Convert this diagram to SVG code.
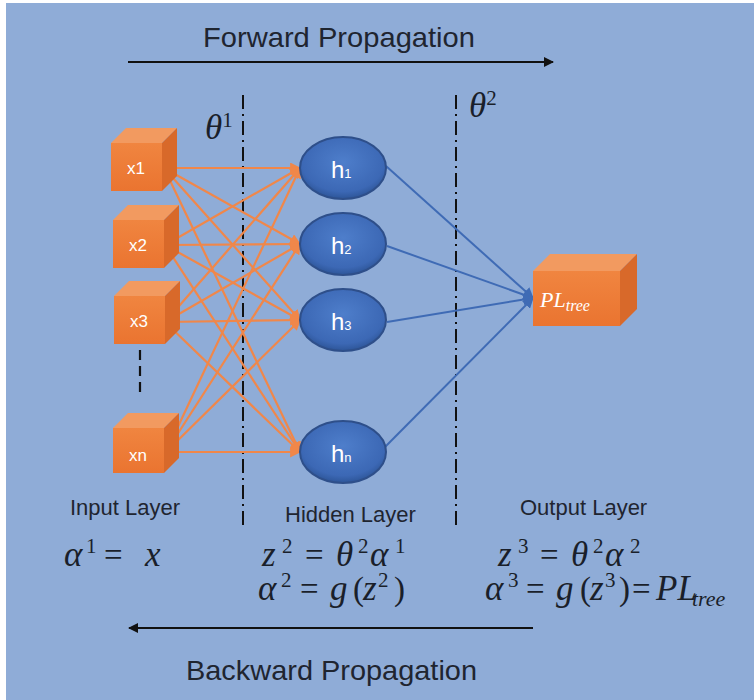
<svg xmlns="http://www.w3.org/2000/svg" width="754" height="700" viewBox="0 0 754 700">
  <defs>
    <style>
      .lbl { font-family: "Liberation Sans", "Open Sans", sans-serif; fill: #1f2530; }
      .math { font-family: "Liberation Serif", "DejaVu Serif", serif; font-style: italic; fill: #1a1f2a; font-size: 35px; }
      .up { font-style: normal; font-size: 33px; }
      .sup { font-style: normal; font-size: 21px; }
      .cubetxt { font-family: "Liberation Sans", "Open Sans", sans-serif; fill: #ffffff; font-size: 17px; text-anchor: middle; }
      .htxt { font-family: "Liberation Sans", "Open Sans", sans-serif; fill: #ffffff; font-size: 24px; }
      .front { fill: url(#gFront); }
      .top { fill: #F29A60; }
      .side { fill: #D8692A; }
      .orange { stroke: #F0874A; stroke-width: 2.2; fill: none; marker-end: url(#aOr); }
      .blue { stroke: #3F6BB5; stroke-width: 2; fill: none; marker-end: url(#aBl); }
      .dashdot { stroke: #111; stroke-width: 2; stroke-dasharray: 14 5 2 5; fill: none; }
      .arrow { stroke: #111; stroke-width: 2.2; fill: none; }
      .node { fill: url(#gNode); stroke: #2E4F8A; stroke-width: 2; }
    </style>
    <linearGradient id="gFront" x1="0" y1="0" x2="0" y2="1">
      <stop offset="0" stop-color="#F08540"/>
      <stop offset="1" stop-color="#EA7430"/>
    </linearGradient>
    <radialGradient id="gNode" cx="0.5" cy="0.4" r="0.6">
      <stop offset="0" stop-color="#4E7ECB"/>
      <stop offset="0.8" stop-color="#3C68B5"/>
      <stop offset="1" stop-color="#2D5598"/>
    </radialGradient>
    <marker id="aOr" viewBox="0 0 10 10" refX="9" refY="5" markerWidth="11" markerHeight="11" markerUnits="userSpaceOnUse" orient="auto">
      <path d="M0,0 L10,5 L0,10 z" fill="#F0874A"/>
    </marker>
    <marker id="aBl" viewBox="0 0 10 10" refX="9" refY="5" markerWidth="11" markerHeight="11" markerUnits="userSpaceOnUse" orient="auto">
      <path d="M0,0 L10,5 L0,10 z" fill="#3F6BB5"/>
    </marker>
    <marker id="aBk" viewBox="0 0 10 10" refX="9" refY="5" markerWidth="12" markerHeight="10" markerUnits="userSpaceOnUse" orient="auto">
      <path d="M0,0 L10,5 L0,10 z" fill="#111"/>
    </marker>
  </defs>

  <rect x="0" y="0" width="754" height="700" fill="#ffffff"/>
  <rect x="6" y="3" width="748" height="697" fill="#8FACD7"/>

  <!-- top / bottom propagation arrows -->
  <g id="forward">
    <text class="lbl" x="203" y="47" font-size="28" textLength="272" lengthAdjust="spacingAndGlyphs">Forward Propagation</text>
    <line class="arrow" x1="128" y1="62" x2="553" y2="62" marker-end="url(#aBk)"/>
  </g>
  <g id="backward">
    <line class="arrow" x1="533" y1="628" x2="129" y2="628" marker-end="url(#aBk)"/>
    <text class="lbl" x="186" y="680" font-size="28" textLength="291" lengthAdjust="spacingAndGlyphs">Backward Propagation</text>
  </g>

  <!-- layer separators -->
  <g id="separators">
    <line class="dashdot" x1="243" y1="95" x2="243" y2="527"/>
    <line class="dashdot" x1="456" y1="95" x2="456" y2="527"/>
    <text class="math" x="205" y="139" font-size="30">θ<tspan class="sup" dy="-12">1</tspan></text>
    <text class="math" x="469" y="117" font-size="30">θ<tspan class="sup" dy="-12">2</tspan></text>
    <line x1="140" y1="350" x2="140" y2="396" stroke="#111" stroke-width="2.2" stroke-dasharray="10 6"/>
  </g>

  <!-- connectors -->
  <g id="connectors">
    <line class="orange" x1="164" y1="168" x2="300" y2="168"/>
    <line class="orange" x1="164" y1="168" x2="300" y2="244"/>
    <line class="orange" x1="164" y1="168" x2="300" y2="320"/>
    <line class="orange" x1="164" y1="168" x2="300" y2="452"/>
    <line class="orange" x1="165" y1="245" x2="300" y2="168"/>
    <line class="orange" x1="165" y1="245" x2="300" y2="244"/>
    <line class="orange" x1="165" y1="245" x2="300" y2="320"/>
    <line class="orange" x1="165" y1="245" x2="300" y2="452"/>
    <line class="orange" x1="165" y1="322" x2="300" y2="168"/>
    <line class="orange" x1="165" y1="322" x2="300" y2="244"/>
    <line class="orange" x1="165" y1="322" x2="300" y2="320"/>
    <line class="orange" x1="165" y1="322" x2="300" y2="452"/>
    <line class="orange" x1="166" y1="452" x2="300" y2="168"/>
    <line class="orange" x1="166" y1="452" x2="300" y2="244"/>
    <line class="orange" x1="166" y1="452" x2="300" y2="320"/>
    <line class="orange" x1="166" y1="452" x2="300" y2="452"/>
    <line class="blue" x1="386" y1="166" x2="533" y2="298"/>
    <line class="blue" x1="387" y1="246" x2="533" y2="298"/>
    <line class="blue" x1="387" y1="322" x2="533" y2="298"/>
    <line class="blue" x1="384" y1="448" x2="533" y2="298"/>
  </g>

  <!-- input nodes -->
  <g id="x1">
    <rect class="front" x="111" y="143" width="51" height="48"/>
    <polygon class="top" points="111,143 126,128 177,128 162,143"/>
    <polygon class="side" points="162,143 177,128 177,176 162,191"/>
    <text class="cubetxt" x="136" y="174">x1</text>
  </g>
  <g id="x2">
    <rect class="front" x="113" y="220" width="51" height="48"/>
    <polygon class="top" points="113,220 128,205 179,205 164,220"/>
    <polygon class="side" points="164,220 179,205 179,253 164,268"/>
    <text class="cubetxt" x="138" y="251">x2</text>
  </g>
  <g id="x3">
    <rect class="front" x="114" y="296" width="51" height="48"/>
    <polygon class="top" points="114,296 129,281 180,281 165,296"/>
    <polygon class="side" points="165,296 180,281 180,329 165,344"/>
    <text class="cubetxt" x="139" y="327">x3</text>
  </g>
  <g id="xn">
    <rect class="front" x="113" y="428" width="51" height="45"/>
    <polygon class="top" points="113,428 128,413 179,413 164,428"/>
    <polygon class="side" points="164,428 179,413 179,458 164,473"/>
    <text class="cubetxt" x="138" y="461">xn</text>
  </g>

  <!-- hidden nodes -->
  <g id="h1">
    <ellipse class="node" cx="343" cy="168" rx="43" ry="31"/>
    <text class="htxt" x="331" y="178">h<tspan font-size="13">1</tspan></text>
  </g>
  <g id="h2">
    <ellipse class="node" cx="343" cy="244" rx="43" ry="31"/>
    <text class="htxt" x="331" y="254">h<tspan font-size="13">2</tspan></text>
  </g>
  <g id="h3">
    <ellipse class="node" cx="343" cy="320" rx="43" ry="31"/>
    <text class="htxt" x="331" y="330">h<tspan font-size="13">3</tspan></text>
  </g>
  <g id="hn">
    <ellipse class="node" cx="343" cy="452" rx="43" ry="31"/>
    <text class="htxt" x="331" y="462">h<tspan font-size="13">n</tspan></text>
  </g>

  <!-- output node -->
  <g id="output">
    <rect class="front" x="533" y="271" width="87" height="55"/>
    <polygon class="top" points="533,271 550,254 637,254 620,271"/>
    <polygon class="side" points="620,271 637,254 637,309 620,326"/>
    <text x="540" y="307" font-family="Liberation Serif, DejaVu Serif, serif" font-style="italic" font-size="22" fill="#fff">PL<tspan font-size="16" dy="4">tree</tspan></text>
  </g>

  <!-- layer labels -->
  <g id="labels">
    <text class="lbl" x="70" y="515" font-size="22">Input Layer</text>
    <text class="lbl" x="285" y="522" font-size="22">Hidden Layer</text>
    <text class="lbl" x="520" y="515" font-size="22">Output Layer</text>
  </g>

  <!-- equations -->
  <g id="equations">
    <text class="math"><tspan x="64" y="566">α</tspan><tspan class="sup" x="86" y="553">1</tspan><tspan class="up" x="104" y="566">=</tspan><tspan x="145" y="566">x</tspan></text>
    <text class="math"><tspan x="262" y="566">z</tspan><tspan class="sup" x="282" y="553">2</tspan><tspan class="up" x="305" y="566">=</tspan><tspan x="336" y="566">θ</tspan><tspan class="sup" x="358" y="553">2</tspan><tspan x="370" y="566">α</tspan><tspan class="sup" x="395" y="553">1</tspan></text>
    <text class="math"><tspan x="258" y="600">α</tspan><tspan class="sup" x="281" y="587">2</tspan><tspan class="up" x="300" y="600">=</tspan><tspan x="330" y="600">g</tspan><tspan class="up" x="353" y="600">(</tspan><tspan x="363" y="600">z</tspan><tspan class="sup" x="378" y="587">2</tspan><tspan class="up" x="394" y="600">)</tspan></text>
    <text class="math"><tspan x="498" y="566">z</tspan><tspan class="sup" x="518" y="553">3</tspan><tspan class="up" x="540" y="566">=</tspan><tspan x="571" y="566">θ</tspan><tspan class="sup" x="593" y="553">2</tspan><tspan x="605" y="566">α</tspan><tspan class="sup" x="630" y="553">2</tspan></text>
    <text class="math"><tspan x="485" y="600">α</tspan><tspan class="sup" x="508" y="587">3</tspan><tspan class="up" x="526" y="600">=</tspan><tspan x="556" y="600">g</tspan><tspan class="up" x="580" y="600">(</tspan><tspan x="590" y="600">z</tspan><tspan class="sup" x="605" y="587">3</tspan><tspan class="up" x="619" y="600">)</tspan><tspan class="up" x="632" y="600" font-size="20">=</tspan><tspan x="656" y="600">PL</tspan><tspan x="692" y="606" font-size="22">tree</tspan></text>
  </g>
</svg>
